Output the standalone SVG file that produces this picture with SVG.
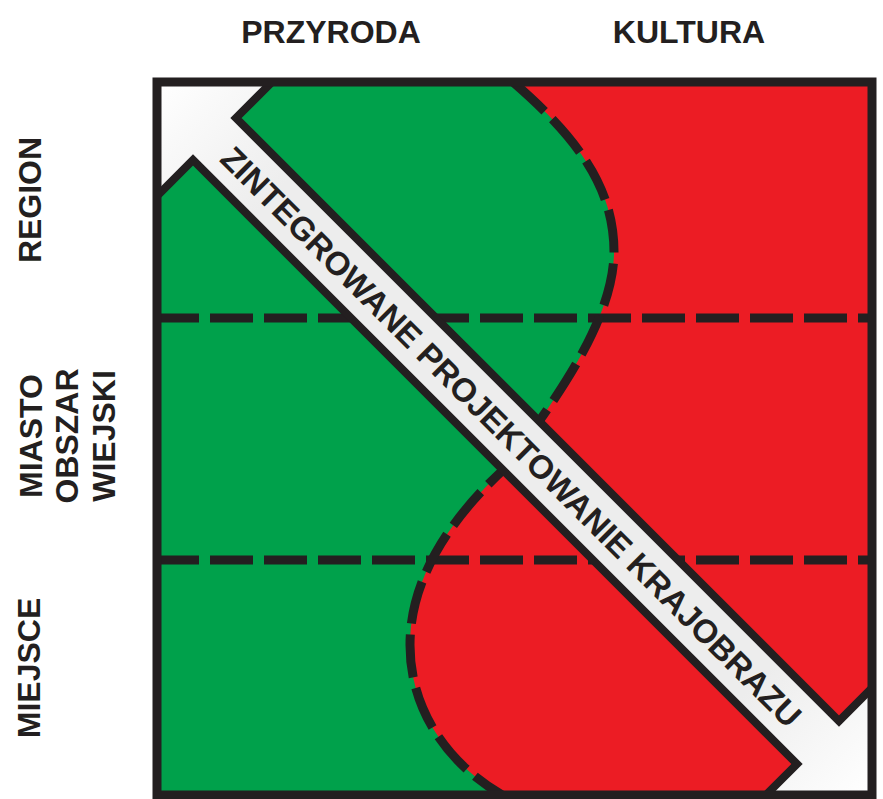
<svg xmlns="http://www.w3.org/2000/svg" width="883" height="799" viewBox="0 0 883 799">
  <defs>
    <style>
      .lbl { font-family: "Liberation Sans", Arial, sans-serif; font-weight: bold; font-size: 32px; fill: #231f20; }
      .band-text { font-family: "Liberation Sans", Arial, sans-serif; font-weight: bold; font-size: 33px; fill: #231f20; }
      .dash { fill: none; stroke: #231f20; stroke-width: 9; stroke-dasharray: 43 11; }
      .outline { stroke: #231f20; stroke-width: 8; stroke-linejoin: miter; }
    </style>
    <linearGradient id="bandFill" gradientUnits="userSpaceOnUse" x1="157" y1="82" x2="872" y2="795">
      <stop offset="0" stop-color="#ffffff"/>
      <stop offset="0.16" stop-color="#ededed"/>
      <stop offset="0.84" stop-color="#ededed"/>
      <stop offset="1" stop-color="#ffffff"/>
    </linearGradient>
  </defs>

  <rect width="883" height="799" fill="#ffffff"/>

  <!-- column headings -->
  <g id="headings">
    <text class="lbl" x="331" y="43" text-anchor="middle">PRZYRODA</text>
    <text class="lbl" x="689" y="43" text-anchor="middle">KULTURA</text>
  </g>

  <!-- row headings, rotated -->
  <g id="row-labels">
    <text class="lbl" text-anchor="middle" transform="translate(41,200) rotate(-90)">REGION</text>
    <text class="lbl" text-anchor="middle" transform="translate(42,436) rotate(-90)">MIASTO</text>
    <text class="lbl" text-anchor="middle" transform="translate(78,436) rotate(-90)">OBSZAR</text>
    <text class="lbl" text-anchor="middle" transform="translate(115,436) rotate(-90)">WIEJSKI</text>
    <text class="lbl" text-anchor="middle" transform="translate(40,668) rotate(-90)">MIEJSCE</text>
  </g>

  <!-- culture (red) fills the square, nature (green) lies left of the S-curve -->
  <g id="fields">
    <rect x="157" y="82" width="715" height="713" fill="#ec1c24"/>
    <path fill="#00a14b" d="M157,82 L513,82 C580,140 615,190 614,255 C612,310 575,370 540,420 L520,455 C455,510 410,575 410,645 C410,712 450,765 502,795 L157,795 Z"/>
  </g>

  <!-- dashed boundaries -->
  <g id="boundaries">
    <line class="dash" x1="156" y1="318" x2="872" y2="318"/>
    <line class="dash" x1="156" y1="560" x2="872" y2="560"/>
    <path class="dash" d="M513,82 C580,140 615,190 614,255 C612,310 575,370 540,420"/>
    <path class="dash" d="M520,455 C455,510 410,575 410,645 C410,712 450,765 502,795"/>
  </g>

  <!-- diagonal band -->
  <g id="band">
    <path class="outline" fill="url(#bandFill)" d="M157,82 L272,82 L236,118 L839,721 L872,688 L872,795 L766,795 L797,764 L193,160 L157,196 Z"/>
    <text class="band-text" text-anchor="middle" textLength="805" lengthAdjust="spacingAndGlyphs" transform="translate(503,445) rotate(45)">ZINTEGROWANE PROJEKTOWANIE KRAJOBRAZU</text>
  </g>

  <!-- frame -->
  <rect id="frame" x="157" y="82" width="715" height="713" fill="none" stroke="#231f20" stroke-width="9"/>
</svg>
